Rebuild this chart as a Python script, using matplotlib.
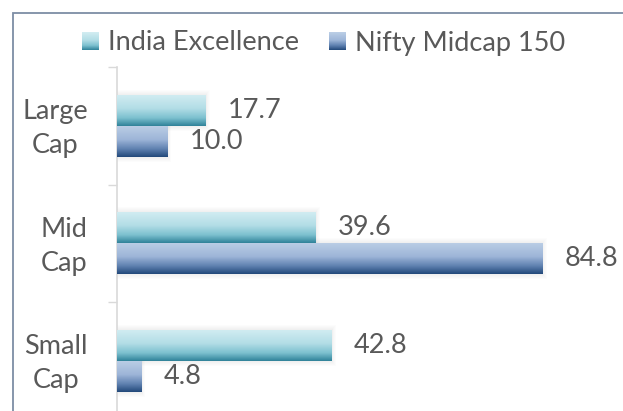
import numpy as np
import matplotlib
matplotlib.use("Agg")
import matplotlib.pyplot as plt
from matplotlib.patches import Patch, Rectangle
from matplotlib.colors import LinearSegmentedColormap
from matplotlib.transforms import ScaledTranslation

categories = ["Large\nCap", "Mid\nCap", "Small\nCap"]
series_names = ["India Excellence", "Nifty Midcap 150"]
india = [17.7, 39.6, 42.8]
nifty = [10.0, 84.8, 4.8]

plt.rcParams['font.family'] = ['Lato', 'DejaVu Sans']
TXT = '#595959'
FS = 19.5

grad_india = LinearSegmentedColormap.from_list(
    'gi', [(0.0, '#d3edf2'), (0.45, '#b2dde6'), (0.75, '#7cc0cf'), (1.0, '#2f8299')])
grad_nifty = LinearSegmentedColormap.from_list(
    'gn', [(0.0, '#bccfe6'), (0.45, '#9db5d8'), (0.75, '#5f81b0'), (1.0, '#22497a')])

W, H = 623, 411
fig = plt.figure(figsize=(W / 100, H / 100), dpi=100)
fig.patch.set_facecolor('white')

# outer frame (chart-area border, cropped at right/bottom)
fig.add_artist(Rectangle((12.5 / W, -0.1), 2, 1.1 - 13.5 / H, transform=fig.transFigure,
                         fill=False, edgecolor='#7d8da5', linewidth=1.3))

ax = fig.add_axes([117 / W, 1 - 419.5 / H, 502 / W, (419.5 - 67) / H])
y = np.arange(len(categories))
h = 0.264
bars_i = ax.barh(y - h / 2, india, height=h, color='#7cc0cf', zorder=3)
bars_n = ax.barh(y + h / 2, nifty, height=h, color='#5f81b0', zorder=3)

grad = np.linspace(0, 1, 128).reshape(-1, 1)
px_x = 100 / 502
px_y = 3 / 352.5
for bars, cmap in ((bars_i, grad_india), (bars_n, grad_nifty)):
    for b in bars:
        x0, y0, w, hh = b.get_x(), b.get_y(), b.get_width(), b.get_height()
        # soft shadow
        for k in range(1, 6):
            ax.add_patch(Rectangle((x0 - k * px_x * 0.6, y0 - k * px_y), w + k * px_x * 1.4,
                                   hh + 2 * k * px_y, facecolor='#8a8a8a', alpha=0.025,
                                   edgecolor='none', zorder=2))
        im = ax.imshow(grad, cmap=cmap, aspect='auto', extent=(x0, x0 + w, y0 + hh, y0),
                       zorder=4, interpolation='bilinear')
        im.set_clip_path(b)

for bars in (bars_i, bars_n):
    ax.bar_label(bars, fmt='%.1f', padding=16, fontsize=FS, color=TXT, zorder=5)

ax.set_xlim(0, 100)
ax.set_ylim(len(categories) - 0.5, -0.5)
ax.set_yticks(y)
ax.set_yticklabels(categories, fontsize=FS, color=TXT, ha='right', multialignment='center',
                   linespacing=1.45)
ax.set_yticks(np.arange(len(categories) + 1) - 0.5, minor=True)
ax.tick_params(axis='y', which='major', length=0, pad=21)
ax.tick_params(axis='y', which='minor', length=6.5, width=1, color='#d9d9d9', direction='out')
ax.set_xticks([])
for s in ('top', 'right', 'bottom'):
    ax.spines[s].set_visible(False)
ax.spines['left'].set_color('#d9d9d9')
ax.spines['left'].set_linewidth(1.2)
ax.set_facecolor('none')

shift = ScaledTranslation(0, 4 / 100, fig.dpi_scale_trans)
for tk in ax.yaxis.get_major_ticks():
    tk.label1.set_transform(tk.label1.get_transform() + shift)

handles = [Patch(facecolor='#7cc0cf', edgecolor='none'), Patch(facecolor='#5f81b0', edgecolor='none')]
leg = fig.legend(handles, series_names, loc='center', bbox_to_anchor=(323.5 / W, 1 - 43 / H),
                 ncol=2, frameon=False, fontsize=FS, handlelength=0.62, handleheight=0.62,
                 handletextpad=0.33, columnspacing=1.1, borderpad=0, borderaxespad=0)
for t in leg.get_texts():
    t.set_color(TXT)

fig.canvas.draw()
inv = fig.transFigure.inverted()
for hd, cmap in zip(leg.legend_handles, (grad_india, grad_nifty)):
    bb = hd.get_window_extent(fig.canvas.get_renderer())
    (fx0, fy0), (fx1, fy1) = inv.transform([[bb.x0, bb.y0], [bb.x1, bb.y1]])
    a2 = fig.add_axes([fx0, fy0, fx1 - fx0, fy1 - fy0])
    a2.imshow(grad, cmap=cmap, aspect='auto', interpolation='bilinear')
    a2.set_axis_off()
    a2.set_zorder(10)

fig.savefig('out.png', dpi=100)
